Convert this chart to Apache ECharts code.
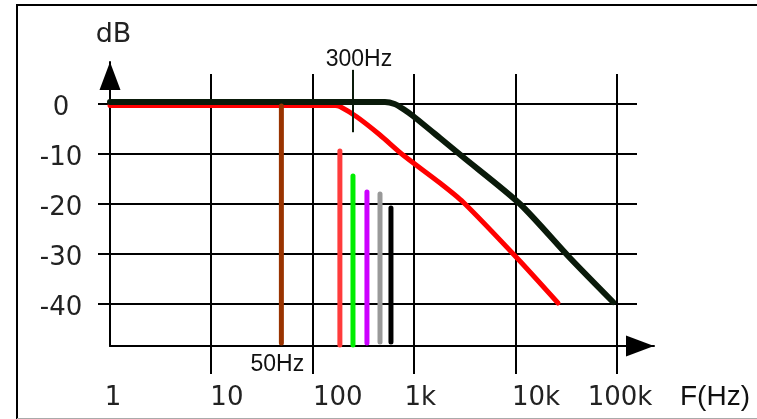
<!DOCTYPE html>
<html><head><meta charset="utf-8">
<script src="https://cdn.jsdelivr.net/npm/echarts@6/dist/echarts.min.js"></script>
<style>html,body{margin:0;padding:0;background:#fff}#c{width:757px;height:419px}</style>
</head><body><div id="c"></div>
<script>
// ---- data ----
const xTickValues = [1, 10, 100, 1000, 10000, 100000];
const xTickLabels = ['1', '10', '100', '1k', '10k', '100k'];
const yTickValues = [0, -10, -20, -30, -40];
const gridDecades = [10, 100, 1000, 10000, 100000];

const blackCurveF  = [1, 515, 640, 780, 973, 1796, 3030, 11050, 34390, 91380];
const blackCurveDb = [0.4, 0.4, 0.0, -1.0, -2.4, -6.8, -10.6, -20.0, -30.8, -39.6];
const redCurveF    = [1, 166, 185, 273, 460, 776, 1796, 3030, 10330, 26200];
const redCurveDb   = [-0.3, -0.3, -0.5, -2.6, -6.2, -10.2, -15.8, -19.6, -30.8, -39.8];

const barF        = [49, 185, 249, 342, 460, 590];
const barTopDb    = [-0.4, -9.4, -14.4, -17.6, -18, -20.8];
const barBottomDb = [-47.8, -48.2, -48.2, -47.8, -47.6, -47.6];
const barLabels   = ['50Hz', '', '', '', '', ''];

const markerF = [249];
const markerTopDb = [6.8];
const markerBottomDb = [-5.6];
const markerLabels = ['300Hz'];

// ---- styling / layout ----
const barColors = ['#993300', '#ff3b3b', '#00ee00', '#cc00ff', '#999999', '#000000'];
const Y_MIN = -48.4, Y_MAX = 8.4;
const X_MIN = 1, X_MAX = 231700;
const labelPads = [6, 31, 50, 12, 41, 6];

const chart = echarts.init(document.getElementById('c'), null, {renderer: 'canvas'});

const series = [];
// grid lines (vertical, decades)
series.push({
  type: 'custom', clip: false, silent: true, z: 1,
  data: gridDecades.map(f => [f, 0]),
  renderItem(params, api) {
    const x = Math.round(api.coord([api.value(0), 0])[0]);
    const yTop = Math.round(api.coord([X_MIN, 6])[1]);
    const yBot = Math.round(api.coord([X_MIN, Y_MIN])[1]) + 28;
    return {type: 'line', shape: {x1: x, y1: yTop, x2: x, y2: yBot}, style: {stroke: '#000', lineWidth: 2}};
  }
});
// grid lines (horizontal, dB)
series.push({
  type: 'custom', clip: false, silent: true, z: 1,
  data: yTickValues.map(v => [X_MIN, v]),
  renderItem(params, api) {
    const y = Math.round(api.coord([X_MIN, api.value(1)])[1]);
    const x1 = Math.round(api.coord([X_MIN, 0])[0]) - 12;
    const x2 = Math.round(api.coord([100000, 0])[0]) + 20;
    return {type: 'line', shape: {x1: x1, y1: y, x2: x2, y2: y}, style: {stroke: '#000', lineWidth: 2}};
  }
});
// red curve
series.push({
  type: 'line', z: 3, symbol: 'none', smooth: 0.25, clip: false,
  data: redCurveF.map((f, i) => [f, redCurveDb[i]]),
  lineStyle: {color: '#ff0000', width: 5, cap: 'round', join: 'round'}
});
// black curve
series.push({
  type: 'line', z: 4, symbol: 'none', smooth: 0.25, clip: false,
  data: blackCurveF.map((f, i) => [f, blackCurveDb[i]]),
  lineStyle: {color: '#0a1a0a', width: 6, cap: 'round', join: 'round'}
});
// vertical bars
barF.forEach((f, i) => {
  series.push({
    type: 'line', z: 5, symbol: 'circle', symbolSize: 2, clip: false,
    itemStyle: {color: barColors[i]},
    lineStyle: {color: barColors[i], width: 5, cap: 'round'},
    data: [
      {value: [f, barTopDb[i]]},
      {value: [f, barBottomDb[i]], label: {show: !!barLabels[i], formatter: barLabels[i], position: 'bottom', distance: 9, offset: [-4, 0], color: '#111', fontFamily: 'Liberation Sans', fontSize: 23}}
    ]
  });
});
// 300Hz marker
markerF.forEach((f, i) => {
  series.push({
    type: 'line', z: 6, symbol: 'circle', symbolSize: 1, clip: false,
    itemStyle: {color: '#0a1a0a'},
    lineStyle: {color: '#0a1a0a', width: 2},
    data: [
      {value: [f, markerTopDb[i]], label: {show: true, formatter: markerLabels[i], position: 'top', distance: 0, offset: [6, 2], color: '#111', fontFamily: 'Liberation Sans', fontSize: 23}},
      {value: [f, markerBottomDb[i]]}
    ]
  });
});

const rich = {};
labelPads.forEach((p, i) => { rich['p' + i] = {padding: [0, 0, 0, p], fontSize: 26, fontFamily: 'DejaVu Sans', color: '#222'}; });

chart.setOption({
  animation: false,
  grid: {left: 110, right: 103, top: 62, bottom: 73, containLabel: false},
  xAxis: {
    type: 'log', logBase: 10, min: X_MIN, max: X_MAX,
    name: 'F(Hz)', nameLocation: 'end', nameGap: 26,
    nameTextStyle: {fontFamily: 'Liberation Sans', fontSize: 28, color: '#111', verticalAlign: 'top', padding: [37, 0, 0, 0]},
    axisLine: {show: true, onZero: false, symbol: ['none', 'triangle'], symbolSize: [21, 28], symbolOffset: [0, -14], lineStyle: {color: '#000', width: 2}},
    axisTick: {show: false},
    splitLine: {show: false},
    axisLabel: {
      show: true, margin: 39, showMaxLabel: false, showMinLabel: true,
      fontFamily: 'DejaVu Sans', fontSize: 26, color: '#222', rich: rich,
      formatter: function (v) {
        const e = Math.log10(v);
        const r = Math.round(e);
        if (Math.abs(e - r) > 1e-6) return '';
        const idx = xTickValues.indexOf(Math.pow(10, r));
        if (idx < 0) return '';
        return '{p' + idx + '|' + xTickLabels[idx] + '}';
      }
    }
  },
  yAxis: {
    type: 'value', min: Y_MIN, max: Y_MAX,
    name: 'dB', nameLocation: 'end', nameGap: 14,
    nameTextStyle: {fontFamily: 'DejaVu Sans', fontSize: 27, color: '#222', padding: [0, 0, 0, 7]},
    axisLine: {show: true, onZero: false, symbol: ['none', 'triangle'], symbolSize: [21, 28], symbolOffset: [0, -14], lineStyle: {color: '#000', width: 2}},
    axisTick: {show: false},
    splitLine: {show: false},
    axisLabel: {
      show: true, customValues: yTickValues, align: 'center', margin: 49,
      fontFamily: 'DejaVu Sans', fontSize: 26, color: '#222',
      rich: {a: {padding: [8, 0, 0, 0], fontSize: 26, fontFamily: 'DejaVu Sans', color: '#222'}},
      formatter: function (v) { return '{a|' + v + '}'; }
    }
  },
  graphic: [
    {type: 'polyline', silent: true, z: 100, shape: {points: [[17, 419], [17, 5], [757, 5]]}, style: {fill: 'none', stroke: '#000', lineWidth: 2}},
    {type: 'line', silent: true, z: 100, shape: {x1: 17, y1: 418.5, x2: 757, y2: 418.5}, style: {stroke: '#aaa', lineWidth: 1}}
  ],
  series: series
});
</script>
</body></html>
